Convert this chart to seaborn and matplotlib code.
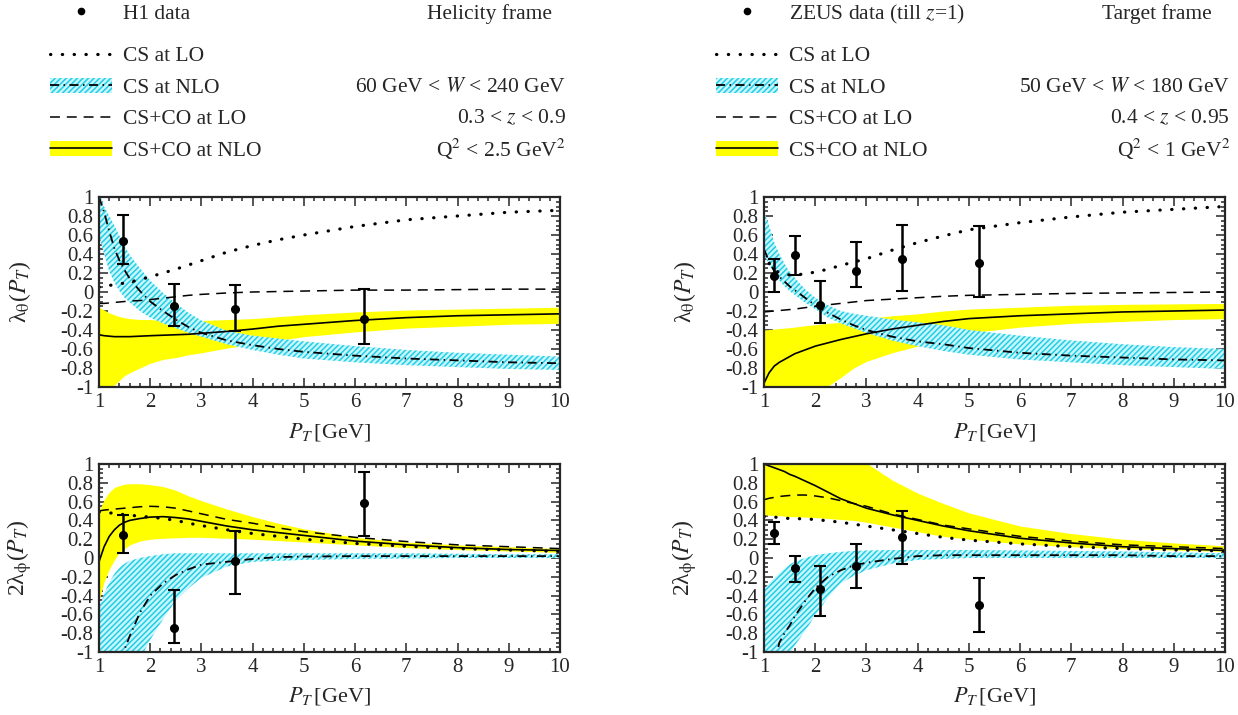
import numpy as np
import matplotlib
matplotlib.use("Agg")
import matplotlib.pyplot as plt
import seaborn as sns
from matplotlib.lines import Line2D
from matplotlib.patches import Patch
from matplotlib.ticker import MultipleLocator, FuncFormatter

nan = np.nan

# common P_T grid (GeV) for the theory curves
pt = [1.0, 1.1, 1.2, 1.3, 1.4, 1.5, 1.6, 1.8, 2.0, 2.25, 2.5, 2.75, 3.0,
      3.5, 4.0, 4.5, 5, 6, 7, 8, 9, 10]

# ---- H1, helicity frame, lambda_theta ----
h1_th_cs_lo = [0.05, 0.06, 0.07, 0.075, 0.085, 0.095, 0.105, 0.13, 0.16, 0.2, 0.24, 0.285, 0.33,
               0.42, 0.49, 0.55, 0.6, 0.69, 0.76, 0.8, 0.84, 0.86]
h1_th_cs_nlo = [1.0, 0.84, 0.64, 0.46, 0.33, 0.23, 0.14, 0.01, -0.1, -0.2, -0.29, -0.37, -0.43,
                -0.51, -0.56, -0.6, -0.63, -0.67, -0.7, -0.72, -0.74, -0.75]
h1_th_cs_nlo_hi = [1.05, 0.9, 0.8, 0.7, 0.59, 0.48, 0.39, 0.25, 0.12, -0.01, -0.12, -0.22, -0.3,
                   -0.41, -0.46, -0.49, -0.52, -0.57, -0.61, -0.64, -0.66, -0.68]
h1_th_cs_nlo_lo = [0.6, 0.4, 0.22, 0.1, 0.01, -0.06, -0.11, -0.2, -0.27, -0.33, -0.38, -0.43, -0.47,
                   -0.55, -0.61, -0.66, -0.7, -0.74, -0.77, -0.79, -0.81, -0.82]
h1_th_co_lo = [-0.12, -0.12, -0.115, -0.11, -0.105, -0.1, -0.095, -0.09, -0.08, -0.065, -0.05, -0.035,
               -0.025, -0.01, 0.0, 0.005, 0.01, 0.02, 0.02, 0.025, 0.03, 0.03]
h1_th_co_nlo = [-0.45, -0.46, -0.465, -0.47, -0.47, -0.47, -0.47, -0.465, -0.46, -0.455, -0.45, -0.445,
                -0.435, -0.415, -0.39, -0.36, -0.34, -0.3, -0.27, -0.25, -0.24, -0.23]
h1_th_co_nlo_hi = [-0.16, -0.19, -0.22, -0.24, -0.26, -0.27, -0.28, -0.29, -0.29, -0.3, -0.3, -0.3,
                   -0.3, -0.29, -0.28, -0.26, -0.24, -0.21, -0.19, -0.18, -0.17, -0.16]
h1_th_co_nlo_lo = [-1.3, -1.15, -1.05, -0.98, -0.93, -0.88, -0.85, -0.8, -0.75, -0.71, -0.69, -0.66,
                   -0.64, -0.59, -0.55, -0.51, -0.47, -0.42, -0.38, -0.36, -0.34, -0.33]
h1_th_x = [1.47, 2.46, 3.65, 6.18]
h1_th_y = [0.54, -0.15, -0.18, -0.28]
h1_th_ylo = [0.30, -0.36, -0.41, -0.55]
h1_th_yhi = [0.81, 0.085, 0.07, 0.035]

# ---- H1, helicity frame, 2 lambda_phi ----
h1_ph_cs_lo = [0.49, 0.485, 0.48, 0.475, 0.47, 0.46, 0.455, 0.445, 0.435, 0.42, 0.40, 0.37, 0.345,
               0.3, 0.26, 0.23, 0.2, 0.155, 0.125, 0.1, 0.085, 0.07]
h1_ph_cs_nlo = [nan, nan, nan, nan, -1.3, -0.97, -0.83, -0.58, -0.4, -0.27, -0.18, -0.12, -0.07,
                -0.04, -0.01, 0.01, 0.015, 0.02, 0.02, 0.02, 0.02, 0.02]
h1_ph_cs_nlo_hi = [-0.54, -0.38, -0.26, -0.17, -0.1, -0.06, -0.03, 0.0, 0.02, 0.04, 0.05, 0.05, 0.05,
                   0.05, 0.05, 0.05, 0.05, 0.05, 0.05, 0.045, 0.04, 0.04]
h1_ph_cs_nlo_lo = [-2.0, -1.9, -1.8, -1.7, -1.6, -1.45, -1.3, -1.08, -0.87, -0.65, -0.45, -0.32, -0.21,
                   -0.09, -0.04, -0.03, -0.02, -0.01, -0.005, 0.0, 0.0, 0.0]
h1_ph_co_lo = [0.5, 0.51, 0.515, 0.52, 0.525, 0.53, 0.535, 0.545, 0.55, 0.545, 0.53, 0.5, 0.47,
               0.41, 0.37, 0.32, 0.28, 0.22, 0.175, 0.14, 0.12, 0.1]
h1_ph_co_nlo = [-0.04, 0.12, 0.23, 0.3, 0.35, 0.38, 0.4, 0.42, 0.435, 0.44, 0.43, 0.415, 0.39,
                0.34, 0.3, 0.27, 0.24, 0.18, 0.14, 0.11, 0.09, 0.08]
h1_ph_co_nlo_hi = [0.5, 0.62, 0.7, 0.75, 0.77, 0.785, 0.79, 0.79, 0.78, 0.76, 0.72, 0.66, 0.61,
                   0.52, 0.44, 0.37, 0.31, 0.22, 0.17, 0.14, 0.12, 0.1]
h1_ph_co_nlo_lo = [-0.45, -0.25, -0.12, -0.02, 0.06, 0.1, 0.14, 0.18, 0.2, 0.21, 0.215, 0.22, 0.22,
                   0.21, 0.2, 0.185, 0.17, 0.14, 0.11, 0.09, 0.075, 0.06]
h1_ph_x = [1.46, 2.47, 3.66, 6.18]
h1_ph_y = [0.25, -0.74, -0.03, 0.59]
h1_ph_ylo = [0.05, -0.90, -0.38, 0.23]
h1_ph_yhi = [0.46, -0.34, 0.29, 0.91]

# ---- ZEUS, target frame, lambda_theta ----
zs_th_cs_lo = [nan, 0.3, 0.24, 0.2, 0.185, 0.18, 0.18, 0.19, 0.21, 0.24, 0.28, 0.315, 0.35,
               0.44, 0.52, 0.59, 0.655, 0.73, 0.79, 0.84, 0.87, 0.9]
zs_th_cs_nlo = [0.45, 0.32, 0.22, 0.16, 0.11, 0.06, 0.02, -0.06, -0.14, -0.22, -0.29, -0.35, -0.4,
                -0.47, -0.52, -0.55, -0.59, -0.64, -0.67, -0.69, -0.71, -0.72]
zs_th_cs_nlo_hi = [0.85, 0.7, 0.52, 0.4, 0.3, 0.21, 0.15, 0.03, -0.06, -0.14, -0.2, -0.23, -0.25,
                   -0.29, -0.32, -0.35, -0.4, -0.46, -0.51, -0.55, -0.58, -0.6]
zs_th_cs_nlo_lo = [0.39, 0.29, 0.2, 0.12, 0.06, 0.01, -0.03, -0.11, -0.18, -0.27, -0.33, -0.38, -0.43,
                   -0.51, -0.57, -0.62, -0.66, -0.71, -0.74, -0.77, -0.79, -0.81]
zs_th_co_lo = [-0.21, -0.205, -0.2, -0.195, -0.19, -0.185, -0.18, -0.165, -0.15, -0.135, -0.12, -0.105,
               -0.09, -0.075, -0.06, -0.045, -0.035, -0.025, -0.015, -0.01, -0.005, 0.0]
zs_th_co_nlo = [-0.96, -0.85, -0.78, -0.74, -0.71, -0.68, -0.65, -0.61, -0.57, -0.535, -0.5, -0.47,
                -0.44, -0.39, -0.35, -0.31, -0.28, -0.25, -0.23, -0.21, -0.2, -0.19]
zs_th_co_nlo_hi = [-0.4, -0.395, -0.39, -0.385, -0.38, -0.375, -0.37, -0.355, -0.345, -0.33, -0.32, -0.3,
                   -0.28, -0.25, -0.23, -0.2, -0.18, -0.16, -0.14, -0.13, -0.125, -0.12]
zs_th_co_nlo_lo = [-1.6, -1.5, -1.4, -1.35, -1.3, -1.25, -1.2, -1.12, -1.05, -0.99, -0.9, -0.8,
                   -0.73, -0.64, -0.57, -0.49, -0.43, -0.37, -0.33, -0.31, -0.29, -0.28]
zs_th_x = [1.2, 1.61, 2.09, 2.8, 3.7, 5.2]
zs_th_y = [0.17, 0.39, -0.14, 0.22, 0.35, 0.31]
zs_th_ylo = [0.0, 0.18, -0.33, 0.05, 0.01, -0.05]
zs_th_yhi = [0.35, 0.59, 0.12, 0.53, 0.71, 0.70]

# ---- ZEUS, target frame, 2 lambda_phi ----
zs_ph_cs_lo = [0.44, 0.44, 0.435, 0.43, 0.425, 0.42, 0.42, 0.415, 0.41, 0.395, 0.38, 0.36, 0.34,
               0.3, 0.26, 0.22, 0.19, 0.15, 0.12, 0.1, 0.085, 0.075]
zs_ph_cs_nlo = [nan, nan, -1.15, -0.9, -0.8, -0.72, -0.62, -0.46, -0.32, -0.2, -0.13, -0.08, -0.05,
                -0.01, 0.02, 0.03, 0.03, 0.03, 0.03, 0.03, 0.02, 0.02]
zs_ph_cs_nlo_hi = [-0.33, -0.27, -0.21, -0.16, -0.11, -0.07, -0.04, 0.0, 0.03, 0.05, 0.065, 0.075, 0.08,
                   0.085, 0.085, 0.085, 0.085, 0.08, 0.075, 0.07, 0.06, 0.05]
zs_ph_cs_nlo_lo = [-1.5, -1.4, -1.3, -1.2, -1.1, -1.03, -0.93, -0.78, -0.61, -0.42, -0.27, -0.19, -0.13,
                   -0.06, -0.02, -0.01, 0.0, 0.0, 0.0, 0.0, 0.0, 0.0]
zs_ph_co_lo = [0.62, 0.635, 0.645, 0.655, 0.66, 0.665, 0.67, 0.67, 0.66, 0.64, 0.61, 0.58, 0.55,
               0.47, 0.41, 0.35, 0.31, 0.23, 0.18, 0.14, 0.12, 0.1]
zs_ph_co_nlo = [1.0, 0.98, 0.96, 0.94, 0.92, 0.89, 0.87, 0.82, 0.77, 0.7, 0.63, 0.58, 0.53,
                0.46, 0.4, 0.34, 0.29, 0.21, 0.16, 0.12, 0.1, 0.08]
zs_ph_co_nlo_hi = [1.3, 1.3, 1.3, 1.3, 1.3, 1.3, 1.3, 1.25, 1.2, 1.15, 1.12, 1.08, 1.01,
                   0.83, 0.69, 0.58, 0.48, 0.34, 0.26, 0.2, 0.16, 0.13]
zs_ph_co_nlo_lo = [0.46, 0.455, 0.45, 0.45, 0.445, 0.44, 0.44, 0.435, 0.43, 0.42, 0.41, 0.4, 0.38,
                   0.33, 0.28, 0.23, 0.2, 0.15, 0.12, 0.1, 0.085, 0.07]
zs_ph_x = [1.2, 1.61, 2.09, 2.8, 3.7, 5.2]
zs_ph_y = [0.27, -0.11, -0.33, -0.09, 0.22, -0.5]
zs_ph_ylo = [0.15, -0.25, -0.62, -0.32, -0.06, -0.79]
zs_ph_yhi = [0.38, 0.02, -0.09, 0.15, 0.5, -0.21]

# styles
YELLOW = "#ffff00"
CYAN_FACE = "#c8f6fb"
CYAN_HATCH = "#22cde6"
DOT = (0, (0.1, 3.6))
DASH = (0, (6.5, 4.5))
DASHDOT = (0, (5, 2.5, 0.8, 2.5))

sns.set_theme(style="ticks")
plt.rcParams["font.family"] = ["Liberation Serif", "DejaVu Serif"]
plt.rcParams["mathtext.fontset"] = "stix"
plt.rcParams["axes.unicode_minus"] = False
plt.rcParams["hatch.linewidth"] = 1.1

fig = plt.figure(figsize=(12.38, 7.15), dpi=100)

W, H = 1238, 715
def add_axes(x0, y0, x1, y1):
    return fig.add_axes([x0 / W, 1 - y1 / H, (x1 - x0) / W, (y1 - y0) / H])

ax_lt = add_axes(99, 197, 560, 387)
ax_lb = add_axes(99, 464, 560, 652)
ax_rt = add_axes(764, 197, 1225, 387)
ax_rb = add_axes(764, 464, 1225, 652)

fmt = FuncFormatter(lambda v, p: "0" if abs(v) < 1e-9 else f"{round(v, 2):g}")


def draw_panel(ax, cs_lo, cs_nlo, cs_lo_b, cs_hi_b, co_lo, co_nlo, co_lo_b, co_hi_b,
               dx, dy, dlo, dhi, ylabel):
    ax.fill_between(pt, co_lo_b, co_hi_b, color=YELLOW, lw=0, zorder=1)
    ax.fill_between(pt, cs_lo_b, cs_hi_b, facecolor=CYAN_FACE, edgecolor=CYAN_HATCH,
                    hatch="//////", lw=0, zorder=2)
    sns.lineplot(x=pt, y=cs_lo, ax=ax, color="black", lw=2.3, linestyle=DOT,
                 dash_capstyle="round", zorder=3)
    sns.lineplot(x=pt, y=cs_nlo, ax=ax, color="black", lw=1.3, linestyle=DASHDOT, zorder=3)
    sns.lineplot(x=pt, y=co_lo, ax=ax, color="black", lw=1.1, linestyle=DASH, zorder=3)
    sns.lineplot(x=pt, y=co_nlo, ax=ax, color="black", lw=1.2, linestyle="-", zorder=3)
    dy_a = np.array(dy)
    yerr = [dy_a - np.array(dlo), np.array(dhi) - dy_a]
    ax.errorbar(dx, dy, yerr=yerr, fmt="o", color="black", ms=5.5, elinewidth=1.8,
                capsize=4, capthick=1.5, zorder=4)

    ax.set_xlim(1, 10)
    ax.set_ylim(-1, 1)
    ax.xaxis.set_major_locator(MultipleLocator(1))
    ax.xaxis.set_minor_locator(MultipleLocator(0.2))
    ax.yaxis.set_major_locator(MultipleLocator(0.2))
    ax.yaxis.set_minor_locator(MultipleLocator(0.05))
    ax.yaxis.set_major_formatter(fmt)
    ax.tick_params(which="both", direction="in", top=True, right=True, width=1.1,
                   labelsize=15, pad=4)
    ax.tick_params(which="major", length=6.5)
    ax.tick_params(which="minor", length=3)
    for s in ax.spines.values():
        s.set_linewidth(1.6)
        s.set_zorder(6)
    ax.set_xlabel(r"$P_T\,$[GeV]", fontsize=16)
    ax.set_ylabel(ylabel, fontsize=17)
    ax.xaxis.set_label_coords(0.5, -0.235)
    ax.xaxis.label.set_va("center")
    ax.yaxis.set_label_coords(-0.172, 0.5)
    ax.yaxis.label.set_va("center")


draw_panel(ax_lt, h1_th_cs_lo, h1_th_cs_nlo, h1_th_cs_nlo_lo, h1_th_cs_nlo_hi,
           h1_th_co_lo, h1_th_co_nlo, h1_th_co_nlo_lo, h1_th_co_nlo_hi,
           h1_th_x, h1_th_y, h1_th_ylo, h1_th_yhi, r"λ$_\mathrm{\theta}$($P_T$)")
draw_panel(ax_lb, h1_ph_cs_lo, h1_ph_cs_nlo, h1_ph_cs_nlo_lo, h1_ph_cs_nlo_hi,
           h1_ph_co_lo, h1_ph_co_nlo, h1_ph_co_nlo_lo, h1_ph_co_nlo_hi,
           h1_ph_x, h1_ph_y, h1_ph_ylo, h1_ph_yhi, r"2λ$_\mathrm{\phi}$($P_T$)")
draw_panel(ax_rt, zs_th_cs_lo, zs_th_cs_nlo, zs_th_cs_nlo_lo, zs_th_cs_nlo_hi,
           zs_th_co_lo, zs_th_co_nlo, zs_th_co_nlo_lo, zs_th_co_nlo_hi,
           zs_th_x, zs_th_y, zs_th_ylo, zs_th_yhi, r"λ$_\mathrm{\theta}$($P_T$)")
draw_panel(ax_rb, zs_ph_cs_lo, zs_ph_cs_nlo, zs_ph_cs_nlo_lo, zs_ph_cs_nlo_hi,
           zs_ph_co_lo, zs_ph_co_nlo, zs_ph_co_nlo_lo, zs_ph_co_nlo_hi,
           zs_ph_x, zs_ph_y, zs_ph_ylo, zs_ph_yhi, r"2λ$_\mathrm{\phi}$($P_T$)")

# legends
curve_handles = [
    Line2D([], [], color="black", lw=2.3, linestyle=DOT, dash_capstyle="round"),
    (Patch(facecolor=CYAN_FACE, edgecolor=CYAN_HATCH, hatch="//////", lw=0),
     Line2D([], [], color="black", lw=1.3, linestyle=DASHDOT)),
    Line2D([], [], color="black", lw=1.1, linestyle=DASH),
    (Patch(facecolor=YELLOW, lw=0), Line2D([], [], color="black", lw=1.2)),
]
curve_labels = ["CS at LO", "CS at NLO", "CS+CO at LO", "CS+CO at NLO"]
data_handle = [Line2D([], [], color="black", marker="o", ms=4.5, lw=0)]

leg_kw = dict(frameon=False, fontsize=15.5, handlelength=2.9, handletextpad=0.5,
              borderpad=0, borderaxespad=0, handleheight=0.75)
for x_hand, data_label in [(50, "H1 data"), (716, r"ZEUS data (till $z$=1)")]:
    fig.legend(data_handle, [data_label], loc="center left",
               bbox_to_anchor=(x_hand / W, 1 - 14 / H), **leg_kw)
    fig.legend(curve_handles, curve_labels, loc="center left", labelspacing=0.52,
               bbox_to_anchor=(x_hand / W, 1 - 103.5 / H), **leg_kw)

side_texts = [
    (552, 14, "Helicity frame"),
    (566, 88, r"60 GeV < $W$ < 240 GeV"),
    (566, 119, r"0.3 < $z$ < 0.9"),
    (566, 149, r"Q$^2$ < 2.5 GeV$^2$"),
    (1212, 14, "Target frame"),
    (1230, 88, r"50 GeV < $W$ < 180 GeV"),
    (1230, 119, r"0.4 < $z$ < 0.95"),
    (1230, 149, r"Q$^2$ < 1 GeV$^2$"),
]
for x, y, s in side_texts:
    fig.text(x / W, 1 - y / H, s, ha="right", va="center", fontsize=15.5)

fig.savefig("out.png", dpi=100)
